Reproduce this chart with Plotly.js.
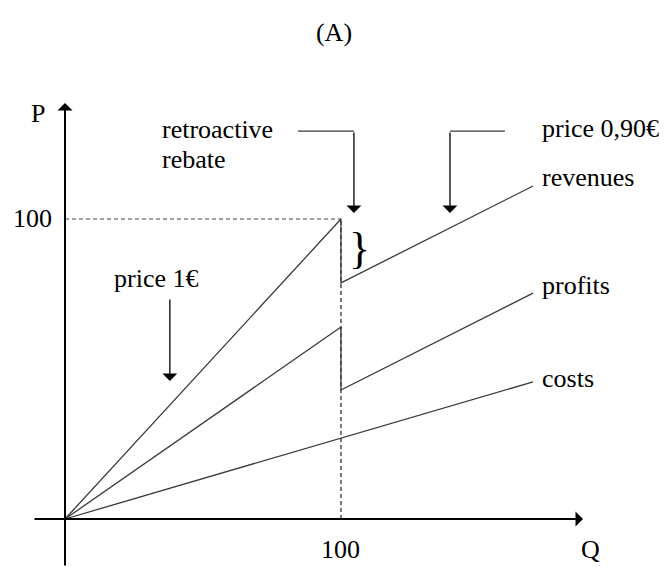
<!DOCTYPE html>
<html>
<head>
<meta charset="utf-8">
<script src="https://cdn.plot.ly/plotly-3.0.1.min.js"></script>
<style>html,body{margin:0;padding:0;background:#fff;}#chart{width:668px;height:567px;}</style>
</head>
<body>
<div id="chart"></div>
<script>
// ---- data (Q, P units) ----
const revenueQ = [0, 100, 100, 169.6];
const revenueP = [0, 100, 78.7, 111];
const profitQ = [0, 100, 100, 169.6];
const profitP = [0, 64, 43, 75.3];
const costQ = [0, 169.6];
const costP = [0, 45.7];
const refQ = 100;           // reference quantity
const refP = 100;           // reference revenue
const seriesLabels = ["revenues", "profits", "costs"];
const xTickLabel = "100";
const yTickLabel = "100";
const xAxisLabel = "Q";
const yAxisLabel = "P";
const titleText = "(A)";
const noteRebate = ["retroactive", "rebate"];
const notePrice90 = "price 0,90€";
const notePrice1 = "price 1€";

// ---- layout helpers (positions in data units) ----
const X0 = -23.55, X1 = 218.5, Y0 = -16, Y1 = 173;
const serif = "Liberation Serif, Times New Roman, serif";
const fs = 26;
const lineCol = "#3a3a3a";

const last = a => a[a.length - 1];

const traces = [
  // dashed guides
  {x: [0, refQ], y: [refP, refP], mode: "lines", line: {color: "#444", width: 1.2, dash: "4px,3px"}, hoverinfo: "skip"},
  {x: [refQ, refQ], y: [0, refP], mode: "lines", line: {color: "#222", width: 1.2, dash: "4px,3px"}, hoverinfo: "skip"},
  {x: revenueQ, y: revenueP, mode: "lines", line: {color: lineCol, width: 1.3}, name: seriesLabels[0]},
  {x: profitQ, y: profitP, mode: "lines", line: {color: lineCol, width: 1.3}, name: seriesLabels[1]},
  {x: costQ, y: costP, mode: "lines", line: {color: lineCol, width: 1.3}, name: seriesLabels[2]},
  // bent arrow shafts
  {x: [84.4, 104.7], y: [129.3, 129.3], mode: "lines", line: {color: lineCol, width: 1.3}, hoverinfo: "skip"},
  {x: [159.4, 139.5], y: [129.3, 129.3], mode: "lines", line: {color: lineCol, width: 1.3}, hoverinfo: "skip"}
];

function txt(x, y, text, anchor, size) {
  return {x: x, y: y, xref: "x", yref: "y", text: text, showarrow: false,
    xanchor: anchor || "left", yanchor: "middle",
    font: {family: serif, size: size || fs, color: "#000"}};
}
function arrow(x, y, ax, ay, w, s) {
  return {x: x, y: y, ax: ax, ay: ay, xref: "x", yref: "y", axref: "x", ayref: "y",
    text: "", showarrow: true, arrowhead: 1, arrowwidth: w, arrowsize: s, arrowcolor: "#000", standoff: 0, startstandoff: 0};
}

const labelQ = 172.0;

const annotations = [
  // axes
  arrow(187.7, 0, -11.6, 0, 2, 1.25),
  arrow(0, 138.7, 0, -16, 2, 1.25),
  txt(-4.0, 0.3 + refP, yTickLabel, "right"),
  txt(refQ, -10, xTickLabel, "center"),
  txt(186.2, -10, xAxisLabel, "left"),
  txt(-9.8, 135.3, yAxisLabel, "center"),
  // notes
  txt(34.5, 129.7, noteRebate[0]),
  txt(34.5, 119.7, noteRebate[1]),
  arrow(104.7, 102, 104.7, 129.3, 1.3, 1.9),
  txt(labelQ, 130.3, notePrice90),
  arrow(139.5, 102, 139.5, 129.3, 1.3, 1.9),
  txt(17.0, 80.3, notePrice1),
  arrow(38, 46, 38, 73.7, 1.3, 1.9),
  // brace
  {x: 102.3, y: 90.3, xref: "x", yref: "y", text: "}", showarrow: false, xanchor: "left", yanchor: "middle",
   font: {family: serif, size: 44, color: "#000"}},
  // series labels
  txt(labelQ, last(revenueP) + 2.7, seriesLabels[0]),
  txt(labelQ, last(profitP) + 2.7, seriesLabels[1]),
  txt(labelQ, last(costP) + 1.0, seriesLabels[2])
];

const layout = {
  width: 668, height: 567,
  margin: {l: 0, r: 0, t: 0, b: 0},
  paper_bgcolor: "#fff", plot_bgcolor: "#fff",
  showlegend: false,
  title: {text: titleText, x: 0.5, xanchor: "center", y: 1 - 32 / 567, yanchor: "middle", yref: "container",
          font: {family: serif, size: fs, color: "#000"}},
  xaxis: {range: [X0, X1], visible: false, fixedrange: true},
  yaxis: {range: [Y0, Y1], visible: false, fixedrange: true},
  annotations: annotations
};

Plotly.newPlot("chart", traces, layout, {staticPlot: true, displayModeBar: false});
</script>
</body>
</html>
